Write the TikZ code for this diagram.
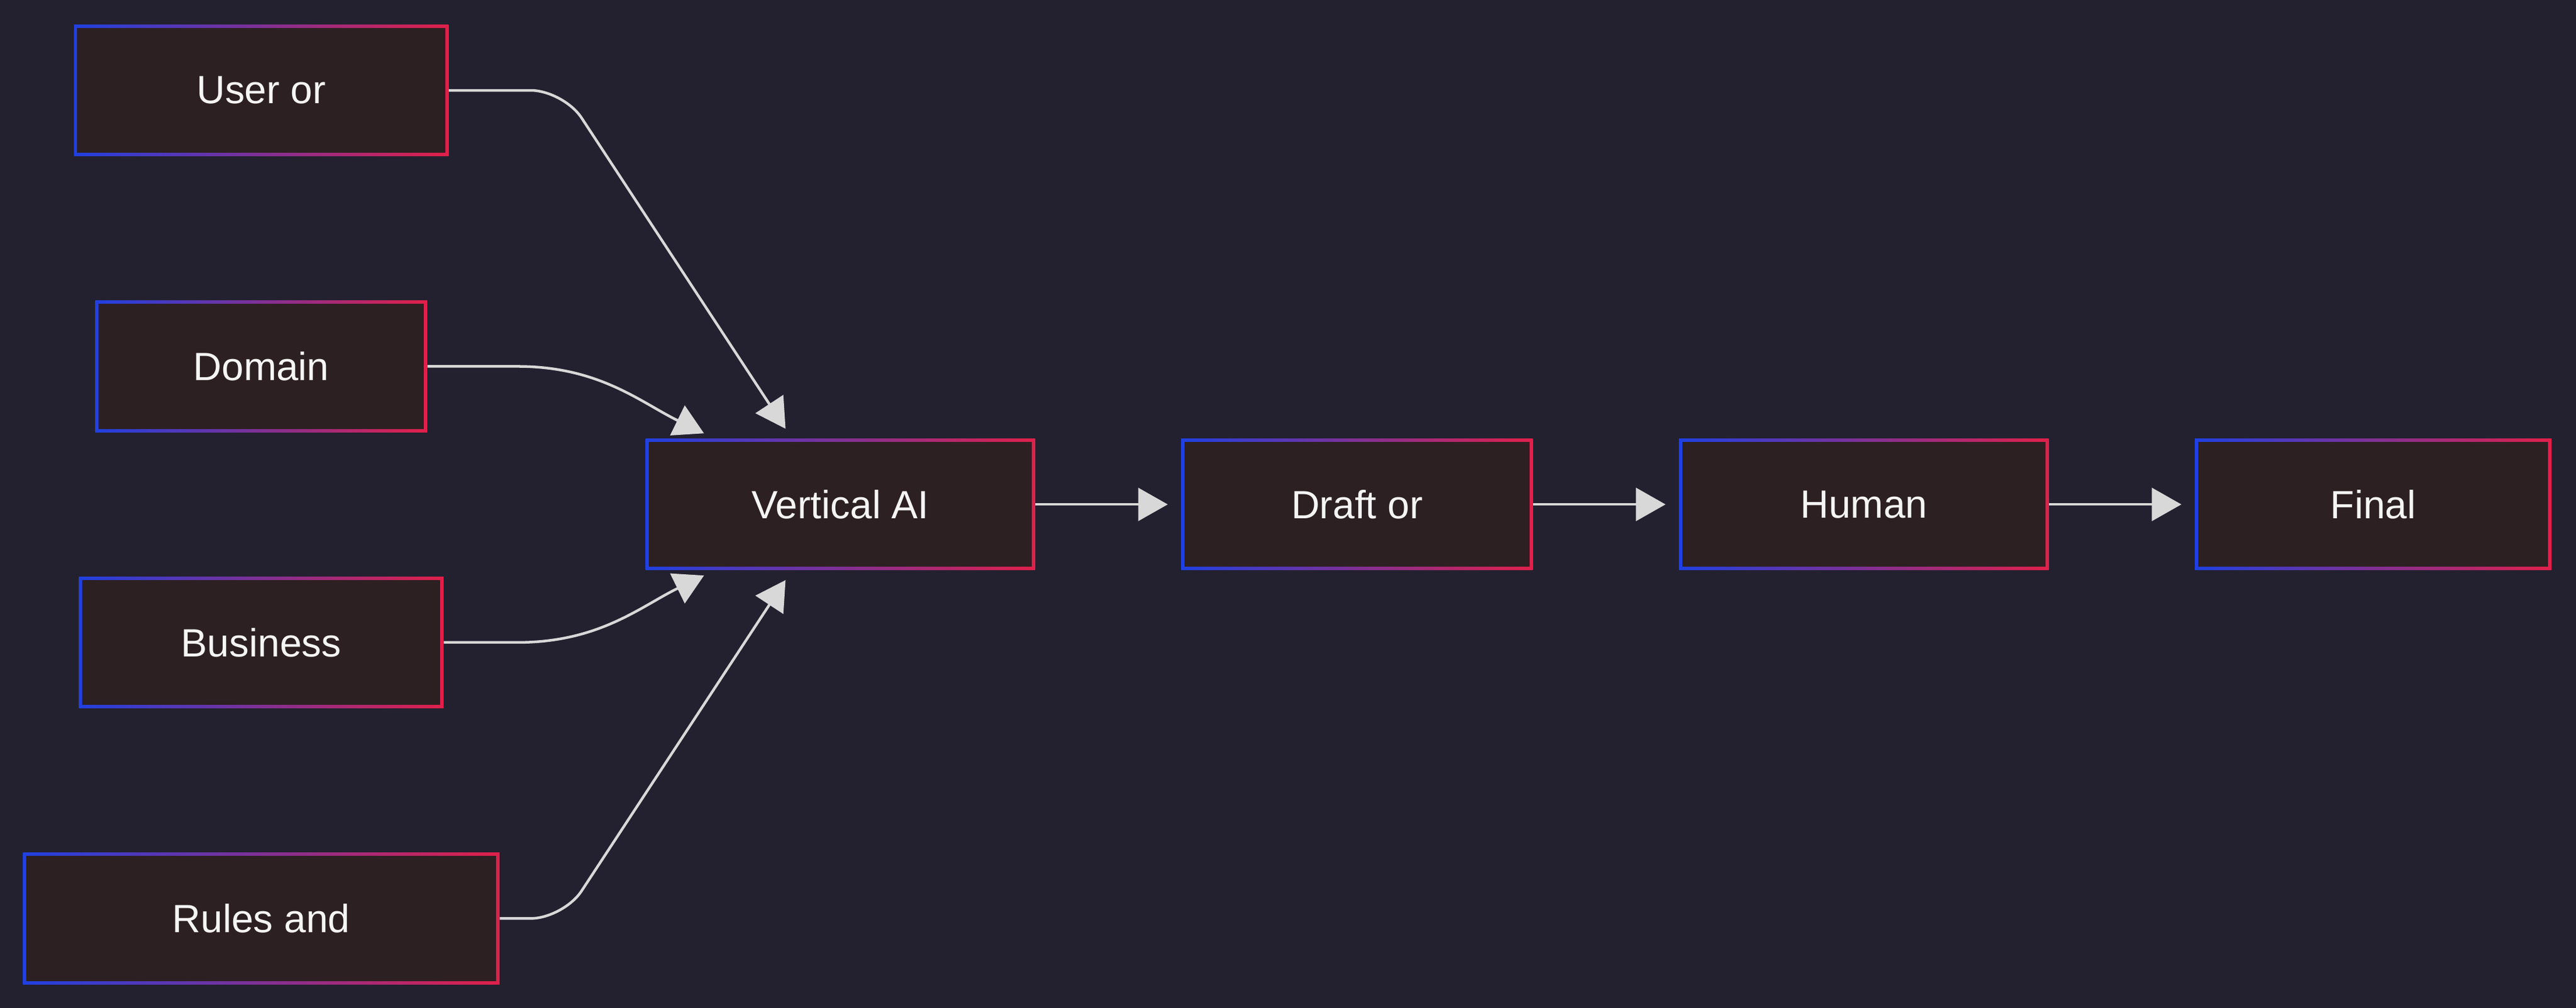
\documentclass[tikz,border=0pt]{standalone}
\usepackage{fontspec}
\setmainfont{Liberation Sans}
\usetikzlibrary{arrows.meta,calc}
\definecolor{bg}{HTML}{23212F}
\definecolor{boxfill}{HTML}{2D2022}
\definecolor{bl}{HTML}{2040E0}
\definecolor{rd}{HTML}{E0204A}
\definecolor{ln}{HTML}{D8D8D8}
\tikzset{
 outer/.style={rectangle,inner sep=0,left color=bl,right color=rd},
 inner/.style={rectangle,inner sep=0,fill=boxfill,text=white!92!gray,font=\fontsize{24}{28}\selectfont},
 arr/.style={draw=ln,line width=1.6pt,-{Triangle[length=18pt,width=20pt]},shorten >=7pt},
}
\newcommand{\mybox}[6]{%
 \node[outer,minimum width=#4pt-#2pt,minimum height=#5pt-#3pt] (#1) at ({(#2+#4)/2},{(#3+#5)/2}) {};
 \node[inner,minimum width=#4pt-#2pt-4pt,minimum height=#5pt-#3pt-4pt] at (#1) {#6};}
\begin{document}
\begin{tikzpicture}[x=1pt,y=-1pt]
\fill[bg] (0,0) rectangle (1568,613.5);
\useasboundingbox (0,0) rectangle (1568,613.5);
\mybox{u}{45}{15}{273}{95}{User or}
\mybox{d}{58}{183}{260}{263}{Domain}
\mybox{b}{48}{351}{270}{431}{Business}
\mybox{r}{14}{519}{304}{599}{Rules and}
\mybox{va}{393}{267}{630}{347}{Vertical AI}
\mybox{dr}{719}{267}{933}{347}{Draft or}
\mybox{h}{1022}{267}{1247}{347}{Human}
\mybox{f}{1336}{267}{1553}{347}{Final}
\draw[arr,rounded corners=20pt] (u.east) -- (343,55) -- ($(va.north)+(-29.5,0)$);
\draw[arr] (d.east) -- (315,223) to[out=0,in=154] ($(va.north west)+(42,0)$);
\draw[arr] (b.east) -- (315,391) to[out=0,in=-154] ($(va.south west)+(42,0)$);
\draw[arr,rounded corners=20pt] (r.east) -- (343,559) -- ($(va.south)+(-29.5,0)$);
\draw[arr,shorten >=8pt] (va.east) -- (dr.west);
\draw[arr,shorten >=8pt] (dr.east) -- (h.west);
\draw[arr,shorten >=8pt] (h.east) -- (f.west);
\end{tikzpicture}
\end{document}
